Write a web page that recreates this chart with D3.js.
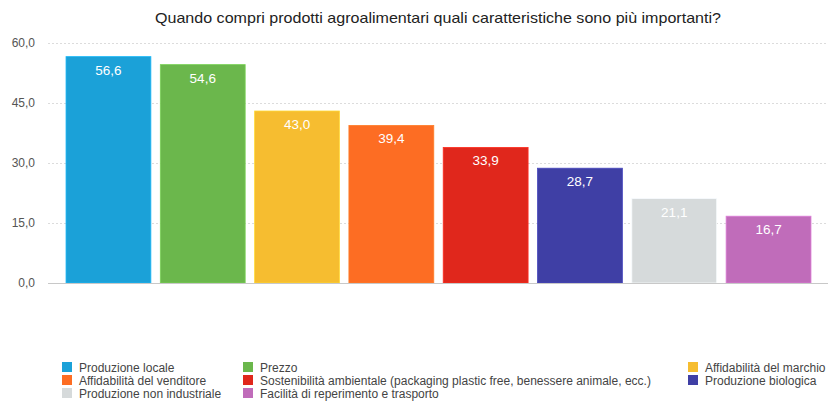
<!DOCTYPE html>
<html>
<head>
<meta charset="utf-8">
<script src="https://cdn.jsdelivr.net/npm/d3@7"></script>
<style>
  html, body { margin: 0; padding: 0; background: #fff; }
  svg { display: block; font-family: "Liberation Sans", Helvetica, Arial, sans-serif; }
</style>
</head>
<body>
<svg id="chart" width="834" height="401"></svg>
<script>
// Survey answers: share of respondents (%) per characteristic
const categories = [
  "Produzione locale",
  "Prezzo",
  "Affidabilità del marchio",
  "Affidabilità del venditore",
  "Sostenibilità ambientale (packaging plastic free, benessere animale, ecc.)",
  "Produzione biologica",
  "Produzione non industriale",
  "Facilità di reperimento e trasporto"
];
const values = [56.6, 54.6, 43.0, 39.4, 33.9, 28.7, 21.1, 16.7];
const colors = ["#1ba1d8", "#6bb74c", "#f6bd30", "#fd6d23", "#e0271c", "#3f3fa5", "#d6dadb", "#c06cba"];
const yTicks = [0, 15, 30, 45, 60];
const title = "Quando compri prodotti agroalimentari quali caratteristiche sono più importanti?";

// legend order: three columns, filled row by row
const legendOrder = [0, 1, 2, 3, 4, 5, 6, 7];

const svg = d3.select("#chart");
const fmt = v => d3.format(".1f")(v).replace(".", ",");

const plot = { left: 48, right: 828, top: 43, bottom: 283 };

const x = d3.scaleBand()
  .domain(categories)
  .range([61.3, 815.7])
  .paddingInner(0.1)
  .paddingOuter(0.05);

const y = d3.scaleLinear()
  .domain([0, 60])
  .range([plot.bottom, plot.top]);

// title
svg.append("text")
  .attr("x", 438)
  .attr("y", 23)
  .attr("text-anchor", "middle")
  .attr("font-size", 14.5)
  .attr("textLength", 566)
  .attr("lengthAdjust", "spacingAndGlyphs")
  .attr("fill", "#222")
  .text(title);

// gridlines
svg.append("g")
  .selectAll("line")
  .data(yTicks.filter(t => t > 0))
  .join("line")
  .attr("x1", plot.left)
  .attr("x2", plot.right)
  .attr("y1", d => y(d) + 0.5)
  .attr("y2", d => y(d) + 0.5)
  .attr("stroke", "#dcdcdc")
  .attr("stroke-dasharray", "2,2");

// y axis labels
const yAxis = d3.axisLeft(y)
  .tickValues(yTicks)
  .tickFormat(fmt)
  .tickSize(0)
  .tickPadding(0);
const gy = svg.append("g")
  .attr("transform", "translate(35,0)")
  .call(yAxis);
gy.select(".domain").remove();
gy.selectAll("text")
  .attr("font-size", 12)
  .attr("font-family", "Liberation Sans, Helvetica, Arial, sans-serif")
  .attr("fill", "#555");

// bars
svg.append("g")
  .selectAll("rect")
  .data(values)
  .join("rect")
  .attr("x", (d, i) => x(categories[i]))
  .attr("width", x.bandwidth())
  .attr("y", d => y(d))
  .attr("height", d => y(0) - y(d))
  .attr("fill", (d, i) => colors[i])
  .attr("stroke", (d, i) => d3.color(colors[i]).brighter(0.4))
  .attr("stroke-width", 0.8);

// baseline
svg.append("line")
  .attr("x1", plot.left)
  .attr("x2", plot.right)
  .attr("y1", y(0) + 0.5)
  .attr("y2", y(0) + 0.5)
  .attr("stroke", "#c8c8c8");

// value labels
svg.append("g")
  .selectAll("text")
  .data(values)
  .join("text")
  .attr("x", (d, i) => x(categories[i]) + x.bandwidth() / 2)
  .attr("y", d => y(d) + 18)
  .attr("text-anchor", "middle")
  .attr("font-size", 13.5)
  .attr("fill", "#fff")
  .text(fmt);

// legend
const colX = [62, 243, 688];
const rowY = [362, 375, 388];
const legend = svg.append("g")
  .selectAll("g")
  .data(legendOrder)
  .join("g")
  .attr("transform", (d, k) => `translate(${colX[k % 3]},${rowY[Math.floor(k / 3)]})`);
legend.append("rect")
  .attr("width", 10)
  .attr("height", 10)
  .attr("fill", d => colors[d]);
legend.append("text")
  .attr("x", 17)
  .attr("y", 9.5)
  .attr("font-size", 12)
  .attr("fill", "#444")
  .text(d => categories[d]);
</script>
</body>
</html>
